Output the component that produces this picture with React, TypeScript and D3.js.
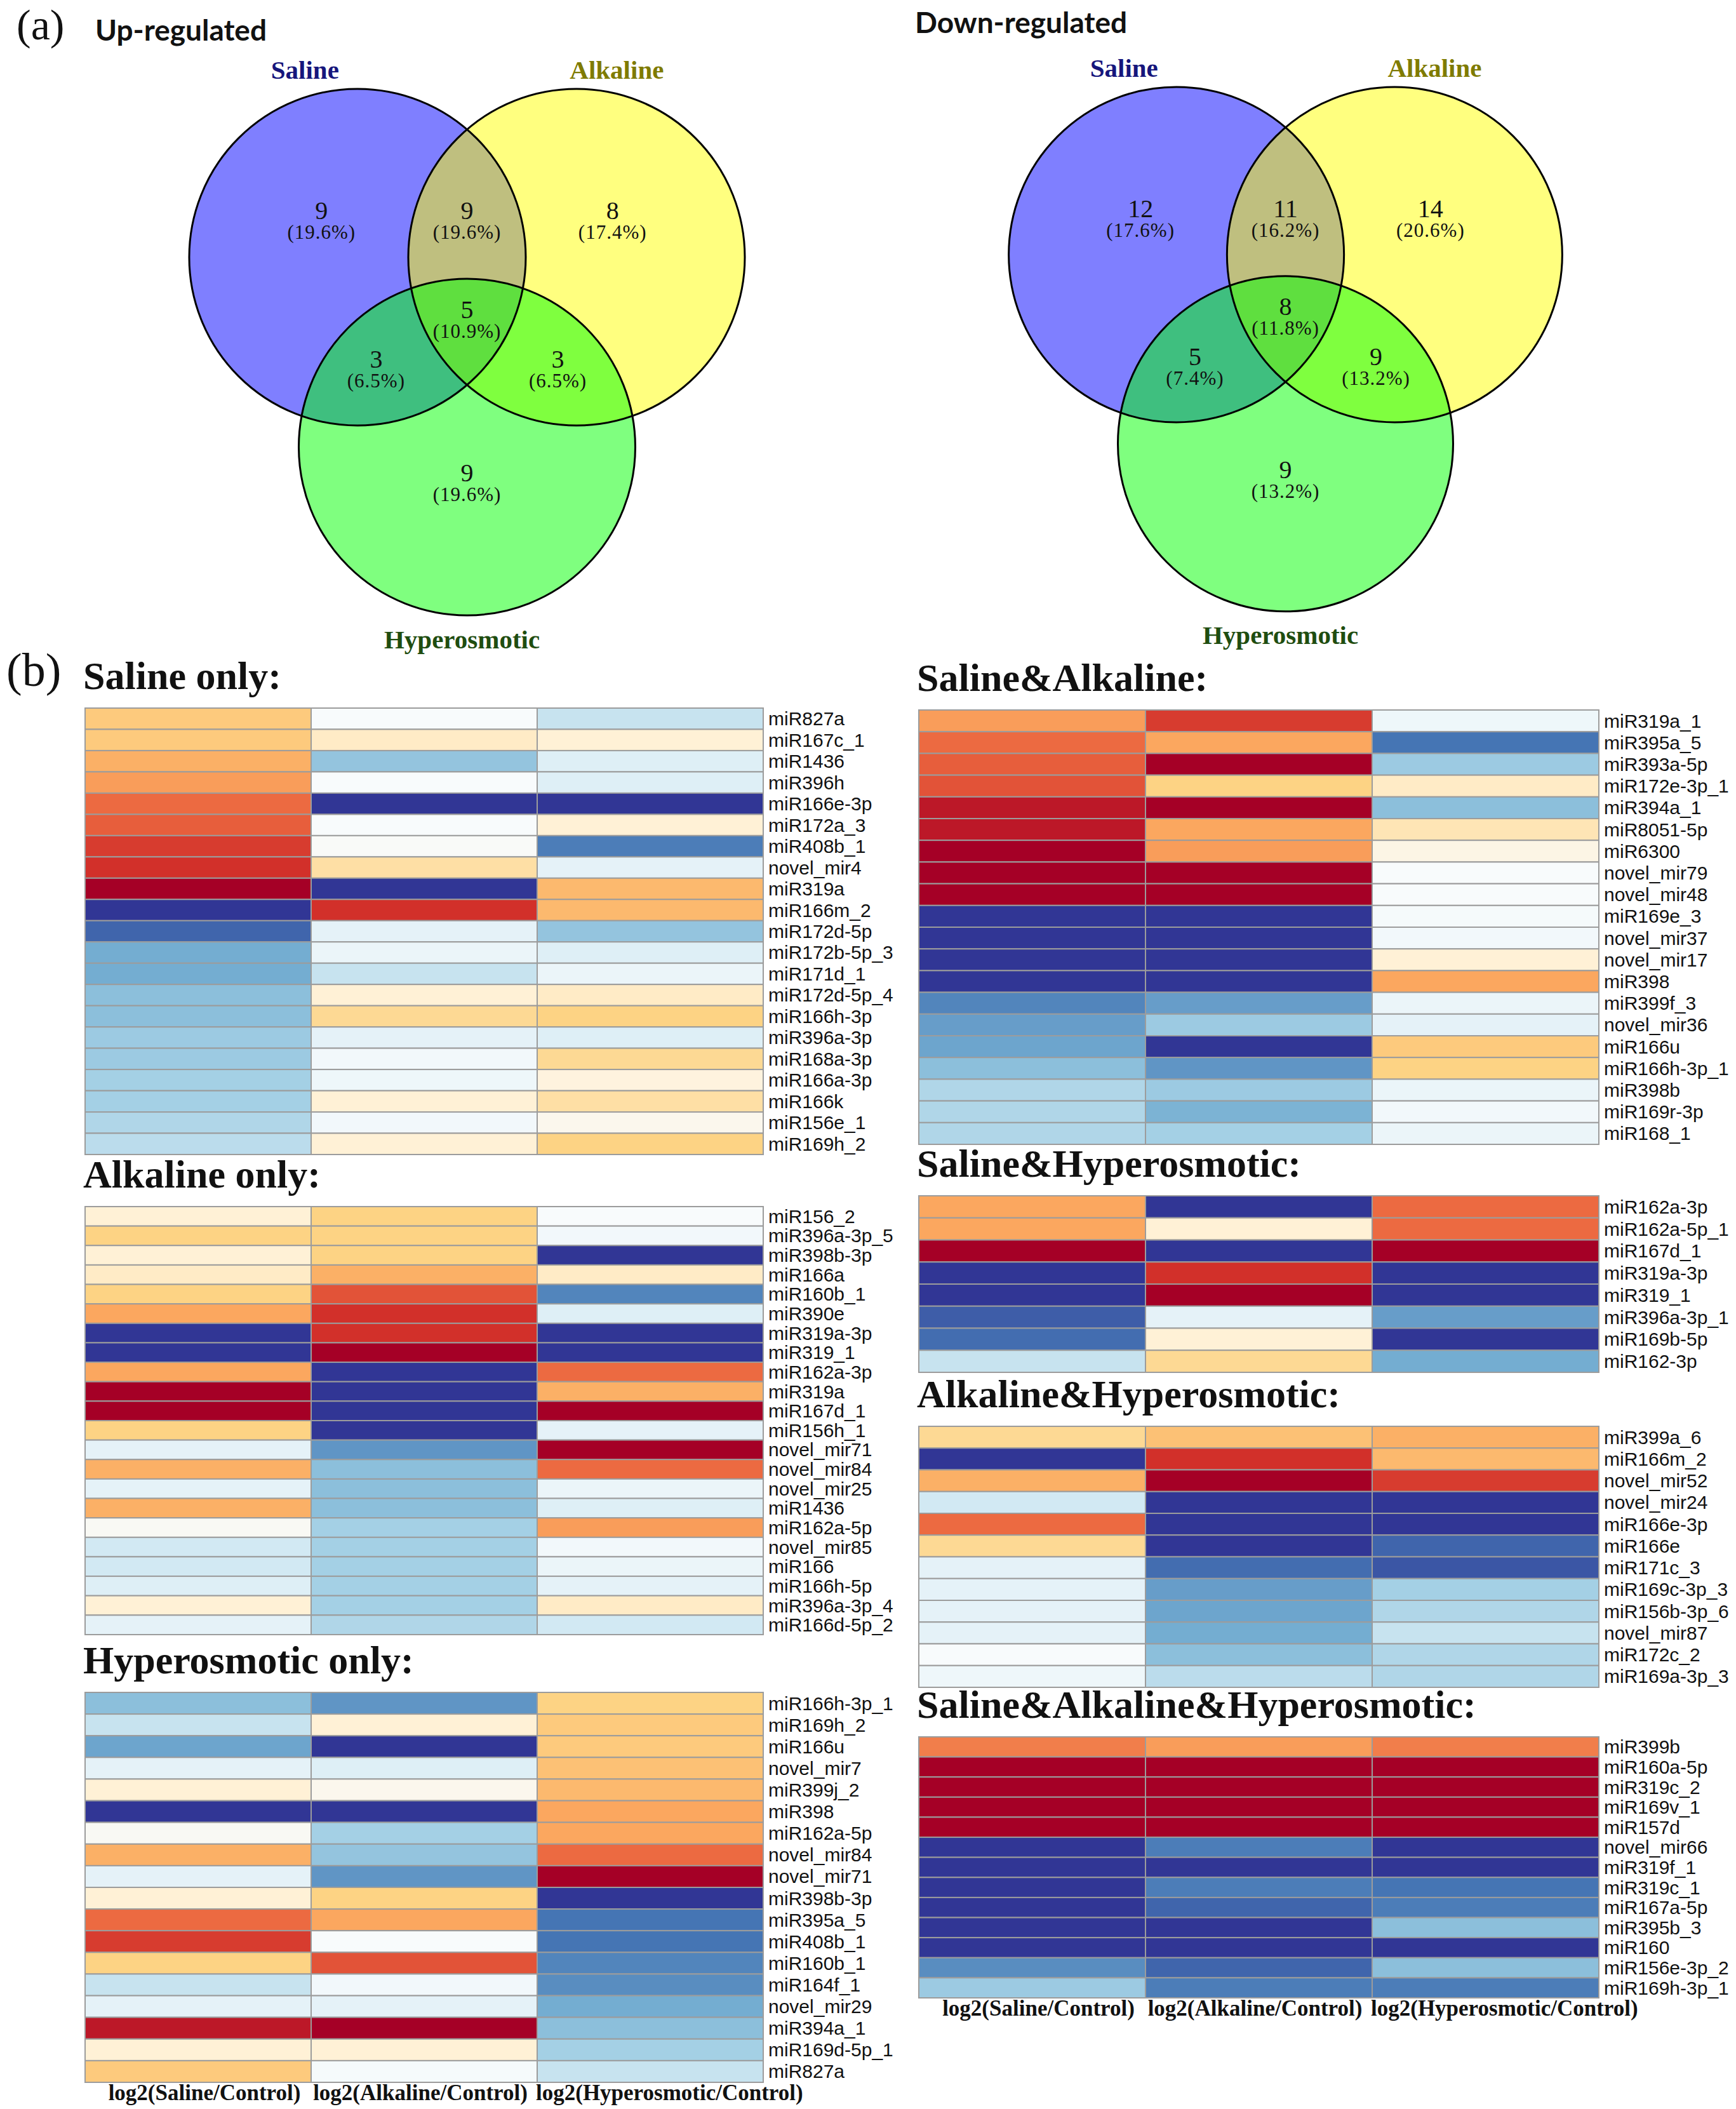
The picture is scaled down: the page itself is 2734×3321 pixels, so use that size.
import * as d3 from 'd3';

// ---- Venn data (region order: S only, S&A, A only, S&A&H, S&H, A&H, H only)
const vennSets = ['Saline', 'Alkaline', 'Hyperosmotic'];
const upCounts = [9, 9, 8, 5, 3, 3, 9];
const upPercents = ['19.6%', '19.6%', '17.4%', '10.9%', '6.5%', '6.5%', '19.6%'];
const downCounts = [12, 11, 14, 8, 5, 9, 9];
const downPercents = ['17.6%', '16.2%', '20.6%', '11.8%', '7.4%', '13.2%', '13.2%'];

// ---- heatmap data: log2 fold change (Saline, Alkaline, Hyperosmotic)
const columnLabels = ['log2(Saline/Control)', 'log2(Alkaline/Control)', 'log2(Hyperosmotic/Control)'];

const salineOnlyNames = ['miR827a', 'miR167c_1', 'miR1436', 'miR396h', 'miR166e-3p', 'miR172a_3', 'miR408b_1', 'novel_mir4', 'miR319a', 'miR166m_2', 'miR172d-5p', 'miR172b-5p_3', 'miR171d_1', 'miR172d-5p_4', 'miR166h-3p', 'miR396a-3p', 'miR168a-3p', 'miR166a-3p', 'miR166k', 'miR156e_1', 'miR169h_2'];
const salineOnlyValues = [
  [1.1, 0, -0.6], [1.1, 0.6, 0.5], [1.4, -1.1, -0.4], [1.6, 0, -0.4], [2.1, -3, -3],
  [2.2, 0, 0.5], [2.5, 0.05, -2.1], [2.6, 0.8, -0.3], [3, -3, 1.3], [-3, 2.6, 1.3],
  [-2.4, -0.3, -1.1], [-1.5, -0.2, -0.4], [-1.5, -0.6, -0.2], [-1.2, 0.5, 0.6], [-1.2, 0.9, 1.0],
  [-1.0, -0.3, -0.4], [-1.0, -0.1, 0.9], [-0.9, -0.15, 0.4], [-0.9, 0.5, 0.8], [-0.8, -0.1, 0.2],
  [-0.7, 0.5, 1.0],
];

const alkalineOnlyNames = ['miR156_2', 'miR396a-3p_5', 'miR398b-3p', 'miR166a', 'miR160b_1', 'miR390e', 'miR319a-3p', 'miR319_1', 'miR162a-3p', 'miR319a', 'miR167d_1', 'miR156h_1', 'novel_mir71', 'novel_mir84', 'novel_mir25', 'miR1436', 'miR162a-5p', 'novel_mir85', 'miR166', 'miR166h-5p', 'miR396a-3p_4', 'miR166d-5p_2'];
const alkalineOnlyValues = [
  [0.5, 1.0, 0], [1.0, 1.0, -0.1], [0.5, 1.0, -3], [0.6, 1.4, 0.6], [1.0, 2.3, -2.0],
  [1.5, 2.6, -0.4], [-3, 2.6, -3], [-3, 3, -3], [1.5, -3, 2.1], [3, -3, 1.4],
  [3, -3, 3], [1.0, -3, -0.3], [-0.3, -1.8, 3], [1.4, -1.2, 2.1], [-0.3, -1.2, -0.2],
  [1.4, -1.2, -0.4], [0.1, -0.9, 1.6], [-0.5, -0.9, -0.1], [-0.5, -0.9, -0.2], [-0.4, -0.9, -0.3],
  [0.5, -0.9, 0.6], [-0.3, -0.8, -0.5],
];

const hyperOnlyNames = ['miR166h-3p_1', 'miR169h_2', 'miR166u', 'novel_mir7', 'miR399j_2', 'miR398', 'miR162a-5p', 'novel_mir84', 'novel_mir71', 'miR398b-3p', 'miR395a_5', 'miR408b_1', 'miR160b_1', 'miR164f_1', 'novel_mir29', 'miR394a_1', 'miR169d-5p_1', 'miR827a'];
const hyperOnlyValues = [
  [-1.2, -1.8, 1.0], [-0.6, 0.5, 1.1], [-1.6, -3, 1.1], [-0.3, -0.4, 1.2], [0.5, 0.2, 1.3],
  [-3, -3, 1.5], [0.1, -0.9, 1.5], [1.4, -1.1, 2.1], [-0.3, -1.8, 3], [0.5, 1.0, -3],
  [2.1, 1.5, -2.2], [2.5, 0, -2.2], [1.0, 2.3, -2.0], [-0.6, -0.1, -1.9], [-0.3, -0.3, -1.5],
  [2.8, 3, -1.2], [0.5, 0.5, -0.9], [1.1, -0.05, -0.6],
];

const salAlkNames = ['miR319a_1', 'miR395a_5', 'miR393a-5p', 'miR172e-3p_1', 'miR394a_1', 'miR8051-5p', 'miR6300', 'novel_mir79', 'novel_mir48', 'miR169e_3', 'novel_mir37', 'novel_mir17', 'miR398', 'miR399f_3', 'novel_mir36', 'miR166u', 'miR166h-3p_1', 'miR398b', 'miR169r-3p', 'miR168_1'];
const salAlkValues = [
  [1.6, 2.5, -0.15], [2.1, 1.5, -2.2], [2.2, 3, -1.0], [2.3, 1.0, 0.6], [2.8, 3, -1.2],
  [2.8, 1.5, 0.7], [3, 1.6, 0.3], [3, 3, 0], [3, 3, 0], [-3, -3, -0.05],
  [-3, -3, -0.1], [-3, -3, 0.5], [-3, -3, 1.5], [-2.0, -1.7, -0.2], [-1.7, -1.0, -0.3],
  [-1.6, -3, 1.1], [-1.2, -1.8, 1.0], [-0.8, -1.0, -0.2], [-0.8, -1.4, -0.1], [-0.8, -0.9, -0.2],
];

const salHyperNames = ['miR162a-3p', 'miR162a-5p_1', 'miR167d_1', 'miR319a-3p', 'miR319_1', 'miR396a-3p_1', 'miR169b-5p', 'miR162-3p'];
const salHyperValues = [
  [1.5, -3, 2.1], [1.5, 0.5, 2.1], [3, -3, 3], [-3, 2.6, -3],
  [-3, 3, -3], [-2.5, -0.3, -1.7], [-2.3, 0.5, -3], [-0.6, 0.9, -1.5],
];

const alkHyperNames = ['miR399a_6', 'miR166m_2', 'novel_mir52', 'novel_mir24', 'miR166e-3p', 'miR166e', 'miR171c_3', 'miR169c-3p_3', 'miR156b-3p_6', 'novel_mir87', 'miR172c_2', 'miR169a-3p_3'];
const alkHyperValues = [
  [0.9, 1.2, 1.4], [-3, 2.6, 1.3], [1.4, 3, 2.5], [-0.5, -3, -3],
  [2.1, -3, -3], [0.9, -3, -2.4], [-0.3, -2.3, -2.6], [-0.3, -1.7, -0.9],
  [-0.3, -1.6, -0.8], [-0.3, -1.5, -0.6], [0, -1.2, -0.8], [-0.15, -0.7, -0.8],
];

const allThreeNames = ['miR399b', 'miR160a-5p', 'miR319c_2', 'miR169v_1', 'miR157d', 'novel_mir66', 'miR319f_1', 'miR319c_1', 'miR167a-5p', 'miR395b_3', 'miR160', 'miR156e-3p_2', 'miR169h-3p_1'];
const allThreeValues = [
  [1.9, 1.6, 1.9], [3, 3, 3], [3, 3, 3], [3, 3, 3], [3, 3, 3],
  [-3, -2.1, -3], [-3, -3, -3], [-3, -2.1, -2.2], [-3, -2.4, -2.1], [-3, -3, -1.2],
  [-3, -3, -3], [-1.9, -2.4, -1.2], [-1.0, -2.1, -2.1],
];

const colorScale = d3.scaleLinear<string>()
  .domain([-3, -2.2, -1.5, -0.9, -0.4, 0, 0.5, 1, 1.5, 2.1, 2.6, 3])
  .range(['#313695', '#4575b4', '#74add1', '#a4d0e5', '#deeff6', '#f8fbfc', '#fff1d6', '#fdd384', '#fba75f', '#ec6a41', '#d2302a', '#a50026'])
  .interpolate(d3.interpolateRgb)
  .clamp(true);

const serif = '"Liberation Serif", "DejaVu Serif", serif';
const sans = '"Liberation Sans", Arial, sans-serif';

interface HeatmapProps {
  title: string;
  names: string[];
  values: number[][];
  x0: number;
  x1: number;
  y0: number;
  y1: number;
  showAxis?: boolean;
}

function Heatmap({ title, names, values, x0, x1, y0, y1, showAxis }: HeatmapProps) {
  const xScale = d3.scaleBand<number>().domain([0, 1, 2]).range([x0, x1]);
  const yScale = d3.scaleBand<string>().domain(names).range([y0, y1]);
  const anchors = ['middle', 'middle', 'start'];
  const labelX = [
    xScale(0)! + xScale.bandwidth() / 2 + 10,
    xScale(1)! + xScale.bandwidth() / 2 - 6,
    xScale(2)! - 2,
  ];

  return (
    <g>
      <text x={x0 - 3} y={y0 - 30} fontFamily={serif} fontWeight="bold" fontSize={62} fill="#111">
        {title}
      </text>
      {names.map((name, i) => (
        <g key={name + i}>
          {values[i].map((v, j) => (
            <rect
              key={j}
              x={xScale(j)}
              y={yScale(name)}
              width={xScale.bandwidth()}
              height={yScale.bandwidth()}
              fill={colorScale(v)}
              stroke="#9c9c9c"
              strokeWidth={2}
            />
          ))}
          <text
            x={x1 + 8}
            y={yScale(name)! + yScale.bandwidth() / 2}
            dominantBaseline="central"
            fontFamily={sans}
            fontSize={30}
            fill="#111"
          >
            {name}
          </text>
        </g>
      ))}
      {showAxis && columnLabels.map((lab, j) => (
        <text
          key={lab}
          x={labelX[j]}
          y={y1 + 28}
          textAnchor={anchors[j] as any}
          fontFamily={serif}
          fontWeight="bold"
          fontSize={35}
          fill="#111"
        >
          {lab}
        </text>
      ))}
    </g>
  );
}

interface VennProps {
  cx: number;
  cy: number;
  r: number;
  title: string;
  titleX: number;
  titleY: number;
  counts: number[];
  percents: string[];
}

function Venn({ cx, cy, r, title, titleX, titleY, counts, percents }: VennProps) {
  const half = r * 0.651;
  const drop = r * 1.128;
  const circles = [
    { name: vennSets[0], x: cx - half, y: cy, fill: '#0000ff' },
    { name: vennSets[1], x: cx + half, y: cy, fill: '#ffff00' },
    { name: vennSets[2], x: cx, y: cy + drop, fill: '#00ff00' },
  ];
  // region label anchors, in units of radius from the centre between Saline and Alkaline
  const regionPos = [
    [-0.865, -0.276], [0, -0.276], [0.865, -0.276], [0, 0.31], [-0.54, 0.607], [0.54, 0.607], [0, 1.283],
  ];
  const setLabels = [
    { text: vennSets[0], dx: -0.963, dy: -1.115, color: '#16167c' },
    { text: vennSets[1], dx: 0.89, dy: -1.112, color: '#7f7b00' },
    { text: vennSets[2], dx: -0.03, dy: 2.27, color: '#1f4d10' },
  ];

  return (
    <g>
      <text x={titleX} y={titleY} fontFamily='Lato, "Open Sans", sans-serif' fontWeight="bold" fontSize={46} fill="#111">
        {title}
      </text>
      {circles.map(c => (
        <circle key={c.name} cx={c.x} cy={c.y} r={r} fill={c.fill} fillOpacity={0.5} />
      ))}
      {circles.map(c => (
        <circle key={c.name + 'o'} cx={c.x} cy={c.y} r={r} fill="none" stroke="#000" strokeWidth={3} />
      ))}
      {setLabels.map(l => (
        <text
          key={l.text}
          x={cx + l.dx * r}
          y={cy + l.dy * r}
          textAnchor="middle"
          dominantBaseline="central"
          fontFamily={serif}
          fontWeight="bold"
          fontSize={41}
          fill={l.color}
        >
          {l.text}
        </text>
      ))}
      {counts.map((n, i) => (
        <g key={i}>
          <text
            x={cx + regionPos[i][0] * r}
            y={cy + regionPos[i][1] * r}
            textAnchor="middle"
            dominantBaseline="central"
            fontFamily={serif}
            fontSize={40}
            fill="#111"
          >
            {n}
          </text>
          <text
            x={cx + regionPos[i][0] * r}
            y={cy + regionPos[i][1] * r + 34}
            textAnchor="middle"
            dominantBaseline="central"
            fontFamily={serif}
            fontSize={31}
            letterSpacing={1}
            fill="#111"
          >
            {`(${percents[i]})`}
          </text>
        </g>
      ))}
    </g>
  );
}

export default function App() {
  const width = 2734;
  const height = 3321;
  const left = { x0: 134, x1: 1202 };
  const right = { x0: 1447, x1: 2518 };

  return (
    <svg
      width={width}
      height={height}
      viewBox={`0 0 ${width} ${height}`}
      style={{ position: 'absolute', left: 0, top: 0, background: '#fff' }}
    >
      <rect width={width} height={height} fill="#fff" />
      <text x={26} y={62} fontFamily={serif} fontSize={68} fill="#111">(a)</text>
      <text x={10} y={1080} fontFamily={serif} fontSize={74} fill="#111">(b)</text>

      <Venn cx={735.5} cy={405} r={265} title="Up-regulated" titleX={150} titleY={64}
        counts={upCounts} percents={upPercents} />
      <Venn cx={2024.5} cy={401} r={264} title="Down-regulated" titleX={1441} titleY={52}
        counts={downCounts} percents={downPercents} />

      <Heatmap title="Saline only:" names={salineOnlyNames} values={salineOnlyValues}
        {...left} y0={1115} y1={1818} />
      <Heatmap title="Alkaline only:" names={alkalineOnlyNames} values={alkalineOnlyValues}
        {...left} y0={1900} y1={2574} />
      <Heatmap title="Hyperosmotic only:" names={hyperOnlyNames} values={hyperOnlyValues}
        {...left} y0={2665} y1={3279} showAxis />

      <Heatmap title="Saline&Alkaline:" names={salAlkNames} values={salAlkValues}
        {...right} y0={1118} y1={1802} />
      <Heatmap title="Saline&Hyperosmotic:" names={salHyperNames} values={salHyperValues}
        {...right} y0={1883} y1={2161} />
      <Heatmap title="Alkaline&Hyperosmotic:" names={alkHyperNames} values={alkHyperValues}
        {...right} y0={2246} y1={2657} />
      <Heatmap title="Saline&Alkaline&Hyperosmotic:" names={allThreeNames} values={allThreeValues}
        {...right} y0={2735} y1={3146} showAxis />
    </svg>
  );
}
